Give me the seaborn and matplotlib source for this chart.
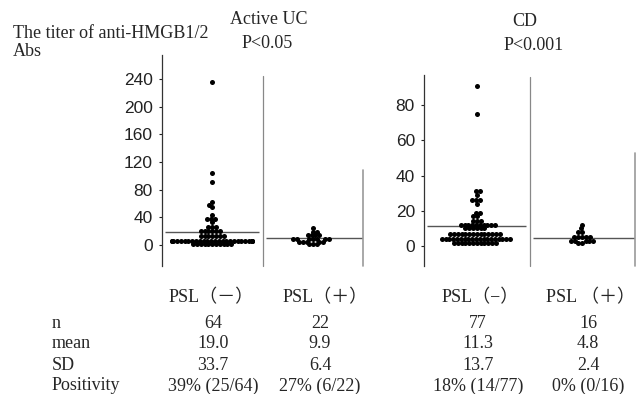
import numpy as np
import pandas as pd
import matplotlib
matplotlib.use('Agg')
import matplotlib.pyplot as plt
import seaborn as sns

# data
uc_minus = [236, 104, 91, 62, 58, 55, 44, 38, 38, 38, 33,
            26, 26, 26,
            20, 20, 20, 20, 20, 20,
            13, 13, 13, 13, 13, 13, 13,
            6, 6, 6, 6, 6, 6, 6, 6, 6, 6, 6, 6, 6,
            6, 6, 6, 6, 6, 6, 6, 6, 6, 6, 6, 6, 6,
            1, 1, 1, 1, 1, 1, 1, 1, 1, 1, 1]
uc_plus = [25, 19, 19, 14, 14, 14, 14,
           9, 9, 9, 9, 9, 9, 9,
           5, 5, 5, 5, 5, 1, 1, 1]
cd_minus = [91, 75, 31, 31, 29, 26, 26, 26, 24,
            19, 19, 17, 17, 14, 14, 14,
            12, 12, 12, 12, 12, 12, 12, 12, 12, 12,
            10, 10, 10, 10, 10, 10,
            7, 7, 7, 7, 7, 7, 7, 7, 7, 7, 7, 7, 7, 7,
            4, 4, 4, 4, 4, 4, 4, 4, 4, 4, 4, 4, 4, 4, 4, 4, 4, 4, 4,
            2, 2, 2, 2, 2, 2, 2, 2, 2, 2, 2, 2]
cd_plus = [12, 10, 8, 8, 5, 5, 5, 5, 5, 3, 3, 3, 3, 3, 2, 2]

row_names = ['n', 'mean', 'SD', 'Positivity']
col_uc_minus = ['64', '19.0', '33.7', '39% (25/64)']
col_uc_plus = ['22', '9.9', '6.4', '27% (6/22)']
col_cd_minus = ['77', '11.3', '13.7', '18% (14/77)']
col_cd_plus = ['16', '4.8', '2.4', '0% (0/16)']
means_uc = [19.0, 9.9]
means_cd = [11.3, 4.8]

sns.set_style('white')
plt.rcParams['font.family'] = ['Liberation Serif', 'Noto Sans CJK JP']

W, H = 640, 394
FS = 13
fig = plt.figure(figsize=(W / 100, H / 100), dpi=100)


def px_axes(x0, y0, x1, y1):
    return fig.add_axes([x0 / W, 1 - y1 / H, (x1 - x0) / W, (y1 - y0) / H])


def ftext(x, y, s, **kw):
    fig.text(x / W, 1 - y / H, s, va='center', fontsize=FS, **kw)


def panel(ax, minus, plus, ylim, yticks, means, div_top, right_top):
    df = pd.DataFrame({'grp': ['m'] * len(minus) + ['p'] * len(plus),
                       'v': minus + plus})
    sns.swarmplot(data=df, x='grp', y='v', order=['m', 'p'], color='black',
                  size=2.6, ax=ax, warn_thresh=1)
    ax.set_xlim(-0.5, 1.5)
    ax.set_ylim(*ylim)
    ax.set_xticks([])
    ax.set_xlabel('')
    ax.set_ylabel('')
    ax.set_yticks(yticks)
    ax.tick_params(axis='y', direction='out', length=2.5, width=0.8, pad=4,
                   left=True, labelsize=12.5, colors='#222222')
    for lab in ax.get_yticklabels():
        lab.set_family('Liberation Sans')
    for s in ['top', 'right', 'bottom']:
        ax.spines[s].set_visible(False)
    ax.spines['left'].set_color('#333333')
    ax.spines['left'].set_linewidth(0.9)
    ax.hlines(means[0], -0.47, 0.47, color='#555555', lw=1)
    ax.hlines(means[1], 0.53, 1.5, color='#555555', lw=1)
    ax.plot([0.5, 0.5], [ylim[0], div_top], color='#888888', lw=0.9, clip_on=False)
    ax.plot([1.5, 1.5], [ylim[0], right_top], color='#999999', lw=1.2, clip_on=False)


ax1 = px_axes(162, 55, 363, 266)
panel(ax1, uc_minus, uc_plus, (-30.4, 274.7), [0, 40, 80, 120, 160, 200, 240],
      means_uc, 244, 108)
ax2 = px_axes(424, 75, 635, 266)
panel(ax2, cd_minus, cd_plus, (-11.3, 97), [0, 20, 40, 60, 80],
      means_cd, 96, 53)

# lay the swarms out with small dots, then draw the dots larger so they touch
fig.canvas.draw()
for ax in (ax1, ax2):
    for coll in ax.collections:
        if not hasattr(coll, 'set_sizes'):
            continue
        if 'draw' in coll.__dict__:
            del coll.draw
        coll.set_sizes([13])

# titles
ftext(13, 34, 'The titer of anti-HMGB1/2', ha='left')
ftext(13, 52, 'Abs', ha='left')
ftext(269, 20, 'Active UC', ha='center')
ftext(267, 43, 'P<0.05', ha='center')
ftext(525, 21, 'CD', ha='center')
ftext(534, 45, 'P<0.001', ha='center')

# table
ftext(211, 298, 'PSL（－）', ha='center')
ftext(325, 298, 'PSL（＋）', ha='center')
ftext(480, 298, 'PSL（−）', ha='center')
ftext(591, 298, 'PSL （＋）', ha='center')
row_y = [323, 344, 365, 386]
for i, name in enumerate(row_names):
    ftext(52, row_y[i], name, ha='left')
    ftext(213, row_y[i], col_uc_minus[i], ha='center')
    ftext(320, row_y[i], col_uc_plus[i], ha='center')
    ftext(478, row_y[i], col_cd_minus[i], ha='center')
    ftext(588, row_y[i], col_cd_plus[i], ha='center')

fig.savefig('out.png', dpi=100)
